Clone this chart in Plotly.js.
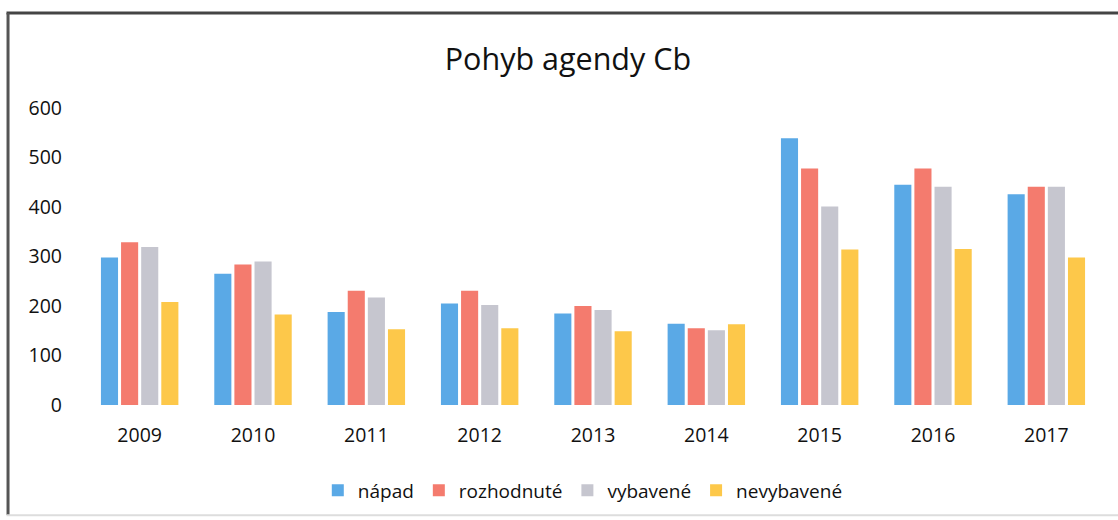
<!DOCTYPE html>
<html><head><meta charset="utf-8">
<script src="https://cdn.plot.ly/plotly-3.0.1.min.js"></script>
<style>html,body{margin:0;padding:0;background:#fff}#chart{width:1118px;height:520px}</style>
</head><body><div id="chart"></div>
<script>
const years = ['2009','2010','2011','2012','2013','2014','2015','2016','2017'];
const napad = [298, 265, 188, 205, 185, 164, 539, 445, 426];
const rozhodnute = [329, 284, 231, 231, 200, 155, 478, 478, 441];
const vybavene = [319, 290, 217, 202, 192, 151, 401, 441, 441];
const nevybavene = [208, 183, 153, 155, 149, 163, 314, 315, 298];
const seriesNames = ['nápad', 'rozhodnuté', 'vybavené', 'nevybavené'];
const colors = ['#5aa9e6', '#f47b6e', '#c6c6cf', '#fdc84a'];
const yTicks = [0, 100, 200, 300, 400, 500, 600];

const data = [napad, rozhodnute, vybavene, nevybavene].map((v, i) => ({
  type: 'bar', x: years, y: v, name: seriesNames[i],
  marker: {color: colors[i]}, hoverinfo: 'x+y+name'
}));

const layout = {
  width: 1118, height: 520,
  paper_bgcolor: '#fff', plot_bgcolor: '#fff',
  margin: {l: 83, r: 15, t: 108, b: 114},
  font: {family: 'Open Sans, Liberation Sans, sans-serif', color: '#111', size: 18},
  title: {text: 'Pohyb agendy Cb', x: 0.508, xanchor: 'center', y: 0.885, yanchor: 'middle',
          font: {size: 30.5, color: '#111', family: 'Open Sans, sans-serif'}},
  barmode: 'group', bargap: 0.29, bargroupgap: 0.15,
  xaxis: {type: 'category', showgrid: false, showline: false, ticks: '', zeroline: false,
          tickfont: {size: 19.5}, ticklabelstandoff: 16},
  yaxis: {range: [0, 600], tickvals: yTicks, showgrid: false, zeroline: false, showline: false,
          ticks: '', tickfont: {size: 19.5}, ticklabelstandoff: 20, fixedrange: true},
  showlegend: true,
  legend: {orientation: 'h', x: 0.49, xanchor: 'center', y: -0.283, yanchor: 'middle',
           font: {size: 19}, itemwidth: 30, traceorder: 'normal'},
  shapes: [
    {type: 'line', xref: 'paper', yref: 'paper', x0: -0.075, x1: 1.02, y0: 1.32, y1: 1.32,
     line: {color: '#444', width: 3}},
    {type: 'line', xref: 'paper', yref: 'paper', x0: -0.0735, x1: -0.0735, y0: 1.32, y1: -0.37,
     line: {color: '#555', width: 3}},
    {type: 'line', xref: 'paper', yref: 'paper', x0: -0.075, x1: 1.02, y0: -0.371, y1: -0.371,
     line: {color: '#ddd', width: 2}}
  ]
};
Plotly.newPlot('chart', data, layout, {displayModeBar: false, staticPlot: true});
</script></body></html>
